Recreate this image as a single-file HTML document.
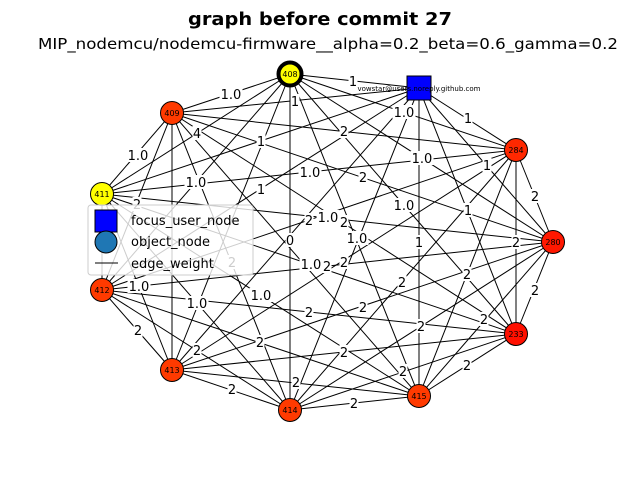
<!DOCTYPE html>
<html><head><meta charset="utf-8"><style>
body{margin:0;background:#fff;width:640px;height:480px;overflow:hidden}
svg{font-family:"DejaVu Sans","Liberation Sans",sans-serif}
</style></head><body>
<svg id="s" width="640" height="480" xmlns="http://www.w3.org/2000/svg">
<text x="188" y="25" font-size="18" font-weight="bold" textLength="264" lengthAdjust="spacingAndGlyphs">graph before commit 27</text>
<text x="38" y="49" font-size="15" textLength="580" lengthAdjust="spacingAndGlyphs">MIP_nodemcu/nodemcu-firmware__alpha=0.2_beta=0.6_gamma=0.2</text>
<g id="e" stroke="#000" stroke-width="1"></g>
<g id="l" font-size="13" text-anchor="middle"></g>
<g id="n" font-size="8" text-anchor="middle"></g>
<g>
<rect x="88" y="205" width="165" height="70" rx="3" fill="#fff" fill-opacity="0.8" stroke="#ccc"/>
<rect x="95" y="210" width="22" height="22" fill="#00f" stroke="#000"/>
<text x="131" y="225" font-size="13">focus_user_node</text>
<circle cx="106" cy="242" r="11" fill="#1f77b4" stroke="#000"/>
<text x="131" y="246" font-size="13">object_node</text>
<line x1="95" y1="263" x2="118" y2="263" stroke="#000"/>
<text x="131" y="268" font-size="13">edge_weight</text>
</g>
</svg>
<script>
var N=[[290,74,'408','#ff0'],[419,88,'u','#00f'],[172,113,'409','#ff3a00'],[516,150,'284','#ff2800'],[102,194,'411','#ff0'],[553,242,'280','#ff1800'],[102,290,'412','#ff3a00'],[516,334,'233','#ff1000'],[172,370,'413','#ff3a00'],[290,410,'414','#ff3a00'],[419,396,'415','#ff3a00']];
var ns='http://www.w3.org/2000/svg',E=document.getElementById('e'),L=document.getElementById('l'),G=document.getElementById('n');
function mk(t,a,p){var el=document.createElementNS(ns,t);for(var k in a)el.setAttribute(k,a[k]);p.appendChild(el);return el;}
for(var i=0;i<N.length;i++)for(var j=i+1;j<N.length;j++)mk('line',{x1:N[i][0],y1:N[i][1],x2:N[j][0],y2:N[j][1]},E);
var lab=[[231,94,'1.0'],[353,81,'1'],[295,101,'1'],[404,112,'1.0'],[468,118,'1'],[138,155,'1.0'],[197,133,'4'],[344,131,'2'],[261,141,'1'],[422,158,'1.0'],[487,165,'1'],[535,196,'2'],[196,182,'1.0'],[310,172,'1.0'],[363,177,'2'],[261,189,'1'],[404,205,'1.0'],[468,210,'1'],[137,204,'2'],[309,220,'2'],[344,222,'2'],[328,217,'1.0'],[357,238,'1.0'],[290,240,'0'],[419,242,'1'],[516,242,'2'],[232,262,'2'],[311,264,'1.0'],[327,266,'2'],[344,262,'2'],[402,282,'2'],[467,274,'2'],[535,290,'2'],[139,286,'1.0'],[197,303,'1.0'],[261,295,'1.0'],[363,307,'2'],[309,312,'2'],[421,326,'2'],[484,319,'2'],[197,350,'2'],[260,342,'2'],[344,352,'2'],[138,330,'2'],[403,371,'2'],[467,365,'2'],[296,382,'2'],[232,389,'2'],[354,403,'2']];
lab.forEach(function(a){var w=a[2].length*7+2;mk('rect',{x:a[0]-w/2,y:a[1]-7,width:w,height:14,fill:'#fff'},L);var t=mk('text',{x:a[0],y:a[1]+5},L);t.textContent=a[2];});
N.forEach(function(a){if(a[2]=='u'){mk('rect',{x:a[0]-12,y:a[1]-12,width:24,height:24,fill:'#00f',stroke:'#000'},G);var t=mk('text',{x:a[0],y:a[1]+3,'font-size':7},G);t.textContent='vowstar@users.noreply.github.com';}else{mk('circle',{cx:a[0],cy:a[1],r:11.5,fill:a[3],stroke:'#000','stroke-width':a[2]=='408'?4:1},G);var t=mk('text',{x:a[0],y:a[1]+3},G);t.textContent=a[2];}});
</script>
</body></html>
